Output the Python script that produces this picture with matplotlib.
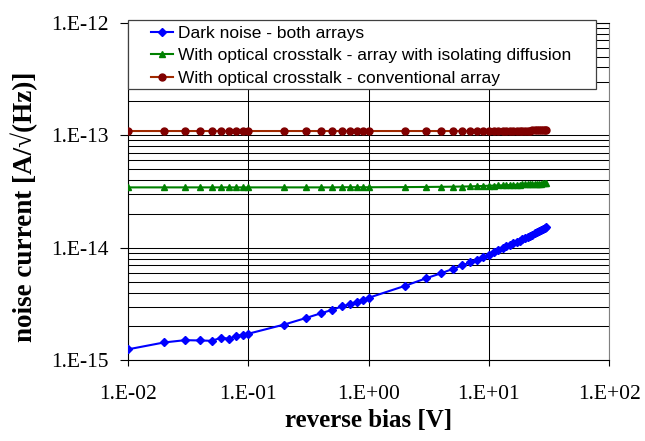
import numpy as np
import matplotlib.pyplot as plt
from matplotlib.patches import Rectangle
from matplotlib.ticker import FixedLocator, FixedFormatter, LogLocator, NullFormatter

# reverse bias [V]
bias = [0.01, 0.02, 0.03, 0.04, 0.05, 0.06, 0.07, 0.08, 0.09, 0.1,
        0.2, 0.3, 0.4, 0.5, 0.6, 0.7, 0.8, 0.9,
        1, 2, 3, 4, 5, 6, 7, 8, 9, 10,
        11, 12, 13, 14, 15, 16, 17, 18, 19, 20,
        21, 22, 23, 24, 25, 26, 27, 28, 29, 30]

# noise current [A/sqrt(Hz)]
dark = [1.25e-15, 1.44e-15, 1.51e-15, 1.50e-15, 1.49e-15, 1.59e-15, 1.55e-15, 1.66e-15, 1.67e-15, 1.72e-15,
        2.08e-15, 2.37e-15, 2.61e-15, 2.81e-15, 3.01e-15, 3.15e-15, 3.32e-15, 3.44e-15,
        3.59e-15, 4.58e-15, 5.35e-15, 5.93e-15, 6.48e-15, 6.97e-15, 7.41e-15, 7.78e-15, 8.26e-15, 8.67e-15,
        9.1e-15, 9.5e-15, 9.9e-15, 1.03e-14, 1.06e-14, 1.10e-14, 1.13e-14, 1.16e-14, 1.19e-14, 1.22e-14,
        1.25e-14, 1.28e-14, 1.31e-14, 1.34e-14, 1.37e-14, 1.40e-14, 1.43e-14, 1.46e-14, 1.49e-14, 1.52e-14]

isolating = [3.44e-14, 3.44e-14, 3.44e-14, 3.44e-14, 3.44e-14, 3.44e-14, 3.44e-14, 3.44e-14, 3.44e-14, 3.44e-14,
             3.44e-14, 3.44e-14, 3.44e-14, 3.44e-14, 3.45e-14, 3.45e-14, 3.45e-14, 3.45e-14,
             3.45e-14, 3.46e-14, 3.47e-14, 3.48e-14, 3.49e-14, 3.50e-14, 3.51e-14, 3.53e-14, 3.54e-14, 3.56e-14,
             3.57e-14, 3.58e-14, 3.59e-14, 3.60e-14, 3.61e-14, 3.62e-14, 3.63e-14, 3.64e-14, 3.65e-14, 3.66e-14,
             3.67e-14, 3.68e-14, 3.69e-14, 3.70e-14, 3.71e-14, 3.72e-14, 3.72e-14, 3.73e-14, 3.74e-14, 3.75e-14]

conventional = [1.09e-13] * 28 + \
               [1.09e-13, 1.095e-13, 1.095e-13, 1.095e-13, 1.095e-13, 1.10e-13, 1.10e-13, 1.10e-13, 1.10e-13, 1.10e-13,
                1.10e-13, 1.10e-13, 1.105e-13, 1.105e-13, 1.105e-13, 1.105e-13, 1.11e-13, 1.11e-13, 1.11e-13, 1.11e-13]

labels = ['Dark noise - both arrays',
          'With optical crosstalk - array with isolating diffusion',
          'With optical crosstalk - conventional array']

xticks = [1e-2, 1e-1, 1e0, 1e1, 1e2]
xticklabels = ['1.E-02', '1.E-01', '1.E+00', '1.E+01', '1.E+02']
yticks = [1e-15, 1e-14, 1e-13, 1e-12]
yticklabels = ['1.E-15', '1.E-14', '1.E-13', '1.E-12']

serif = 'Liberation Serif'
sans = 'Liberation Sans'

fig = plt.figure(figsize=(6.45, 4.41), dpi=100)
ax = fig.add_axes([127.7 / 645, 1 - 360.3 / 441, 481.6 / 645, 337.6 / 441])

ax.plot(bias, dark, color='#0000ff', lw=1.5, marker='D', ms=4.5, label=labels[0], zorder=5)
ax.plot(bias, isolating, color='#008000', lw=1.5, marker='^', ms=4.5, label=labels[1], zorder=5)
ax.plot(bias, conventional, color='#a02a00', lw=1.5, marker='o', ms=5,
        mfc='#800000', mec='#800000', label=labels[2], zorder=5)

ax.set_xscale('log')
ax.set_yscale('log')
ax.set_xlim(1e-2, 1e2)
ax.set_ylim(1e-15, 1e-12)

ax.xaxis.set_major_locator(FixedLocator(xticks))
ax.xaxis.set_major_formatter(FixedFormatter(xticklabels))
ax.xaxis.set_minor_locator(FixedLocator([]))
ax.yaxis.set_major_locator(FixedLocator(yticks))
ax.yaxis.set_major_formatter(FixedFormatter(yticklabels))
ax.yaxis.set_minor_locator(LogLocator(base=10, subs=np.arange(2, 10)))
ax.yaxis.set_minor_formatter(NullFormatter())

ax.tick_params(axis='x', which='major', direction='out', length=4.5, width=0.8, pad=13,
               labelsize=15.5, labelfontfamily=serif)
ax.tick_params(axis='y', which='major', direction='out', length=5.5, width=0.8, pad=8,
               labelsize=15.5, labelfontfamily=serif)
ax.tick_params(axis='y', which='minor', length=0)
ax.tick_params(top=False, right=False)

ax.grid(True, which='major', axis='both', color='black', lw=0.75)
ax.grid(True, which='minor', axis='y', color='black', lw=0.75)
ax.set_axisbelow(True)

for s in ['left', 'bottom', 'top']:
    ax.spines[s].set_color('black')
    ax.spines[s].set_linewidth(0.8)
ax.spines['right'].set_color('#808080')
ax.spines['right'].set_linewidth(0.8)

ax.set_xlabel('reverse bias [V]', fontsize=18, fontweight='bold', family=serif)
ax.set_ylabel('noise current [A/√(Hz)]', fontsize=19.5, fontweight='bold', family=serif)
ax.xaxis.set_label_coords(0.5, -0.145)
ax.yaxis.set_label_coords(-0.186, 0.454)

# legend box
box = Rectangle((0.0, 0.8036), 0.9728, 0.2044, transform=ax.transAxes, facecolor='white',
                edgecolor='#404040', lw=0.9, zorder=8, clip_on=False)
ax.add_patch(box)
leg = ax.legend(loc='upper left', bbox_to_anchor=(0.0478, 0.99), borderaxespad=0, borderpad=0,
                frameon=False, prop={'family': sans, 'size': 12.5}, handlelength=1.3,
                handletextpad=0.25, labelspacing=0.41)
leg.set_zorder(9)

fig.savefig('out.png', dpi=100)
